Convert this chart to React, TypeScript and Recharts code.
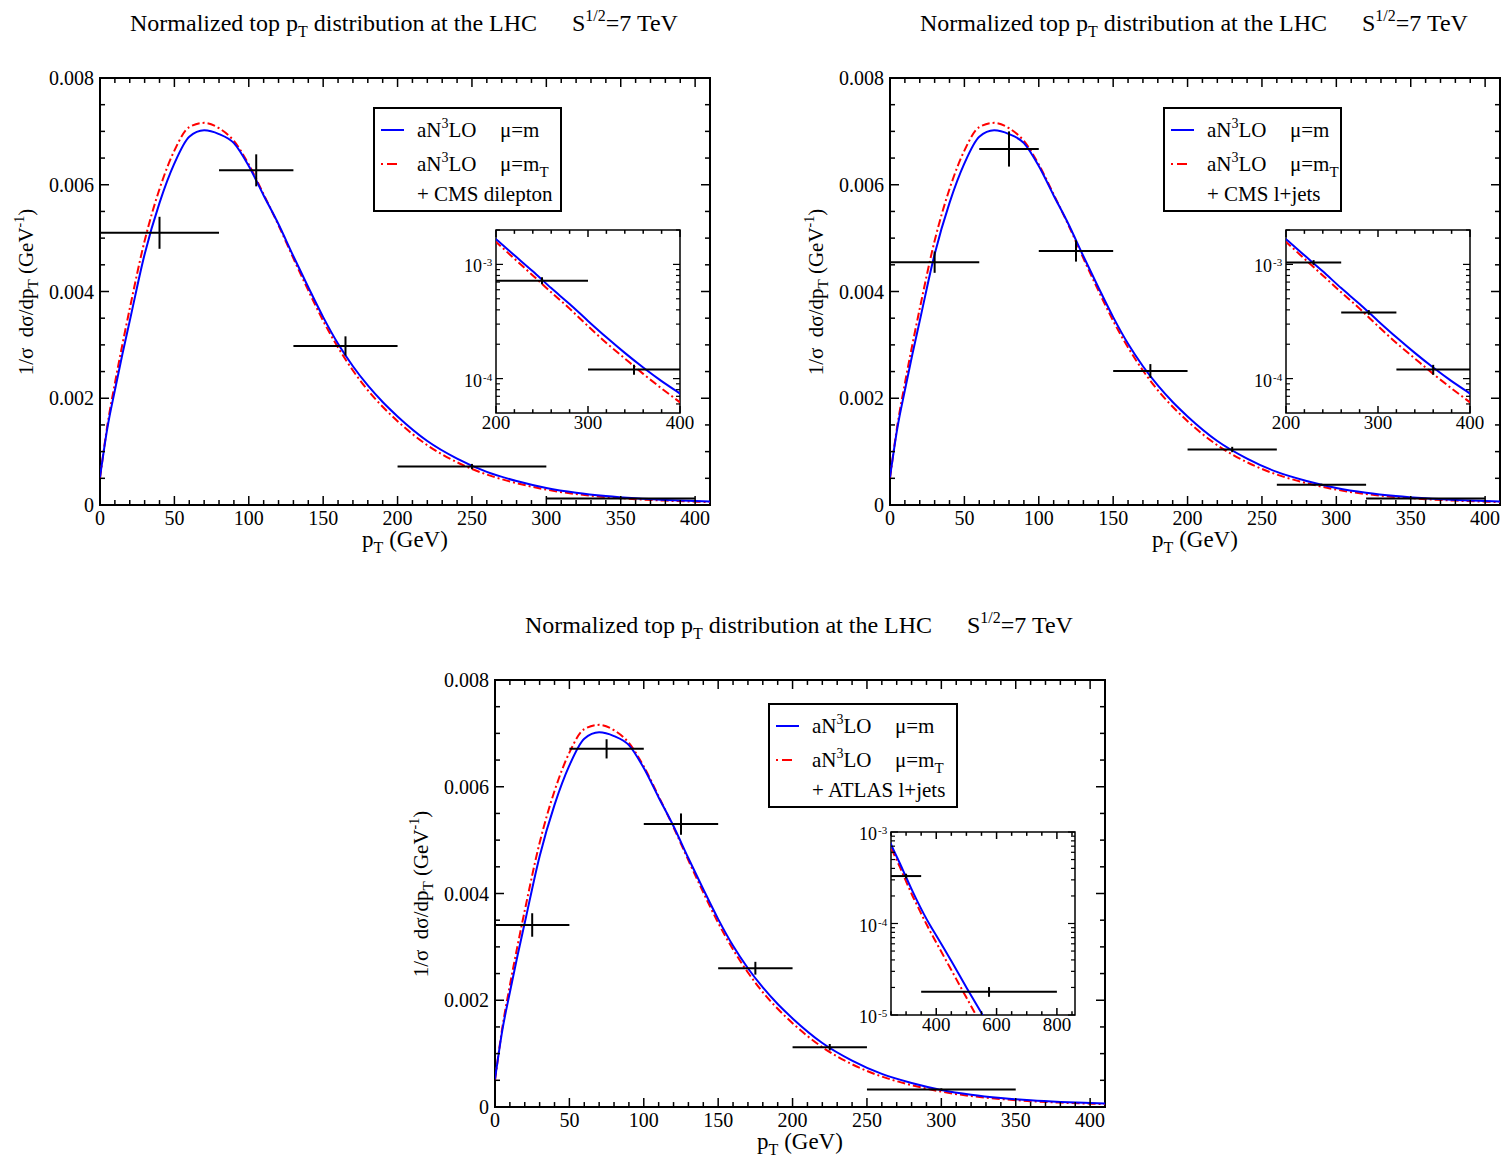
import React from "react";
import { ComposedChart, Line, Scatter, ErrorBar, XAxis, YAxis, ReferenceArea } from "recharts";

// theory curves (same for all three panels)
const ptGrid = [0, 5, 10, 15, 20, 30, 40, 50, 60, 70, 80, 90, 100, 110, 120, 130, 140, 150, 160, 170, 180, 190, 200, 220, 240, 260, 280, 300, 320, 340, 360, 380, 400, 450, 500, 550, 600];
const aN3LOmuM = [0.00052, 0.00145, 0.00215, 0.00282, 0.00345, 0.0047, 0.00566, 0.0064, 0.0069, 0.00702, 0.00695, 0.00678, 0.00635, 0.0058, 0.00526, 0.00466, 0.00408, 0.00352, 0.00302, 0.0026, 0.00224, 0.00193, 0.00166, 0.0012, 0.00087, 0.00062, 0.00045, 0.00032, 0.00023, 0.000168, 0.000125, 0.000095, 0.000074, 0.000039, 0.00002, 0.0000105, 0.0000055];
const aN3LOmuMT = [0.0005, 0.0015, 0.00228, 0.003, 0.00368, 0.00495, 0.00592, 0.00664, 0.00708, 0.00716, 0.00706, 0.00682, 0.00638, 0.00582, 0.00524, 0.00462, 0.00402, 0.00345, 0.00295, 0.00252, 0.00215, 0.00184, 0.00157, 0.00112, 0.0008, 0.00057, 0.00041, 0.000288, 0.000205, 0.00015, 0.00011, 0.000082, 0.000062, 0.000031, 0.0000155, 0.0000078, 0.0000039];

// CMS dilepton
const dilepX = [40, 105, 165, 250, 350];
const dilepY = [0.0051, 0.00627, 0.00298, 0.00072, 0.00012];
const dilepErr = [0.0003, 0.0003, 0.00018, 0.00005, 0.000012];
const dilepLo = [0, 80, 130, 200, 300];
const dilepHi = [80, 130, 200, 300, 400];

// CMS l+jets
const ljetsX = [30, 80, 125, 175, 230, 290, 360];
const ljetsY = [0.00455, 0.00667, 0.00476, 0.00251, 0.00104, 0.00038, 0.00012];
const ljetsErr = [0.0002, 0.00033, 0.0002, 0.00013, 0.00005, 0.000018, 0.000012];
const ljetsLo = [0, 60, 100, 150, 200, 260, 320];
const ljetsHi = [60, 100, 150, 200, 260, 320, 400];

// ATLAS l+jets
const atlasX = [25, 75, 125, 175, 225, 300, 575];
const atlasY = [0.00341, 0.00671, 0.0053, 0.0026, 0.00112, 0.00033, 0.000018];
const atlasErr = [0.00022, 0.00018, 0.0002, 0.00012, 0.00006, 0.00002, 0.0000022];
const atlasLo = [0, 50, 100, 150, 200, 250, 350];
const atlasHi = [50, 100, 150, 200, 250, 350, 800];

// axis ticks
const mainXTicks = [0, 10, 20, 30, 40, 50, 60, 70, 80, 90, 100, 110, 120, 130, 140, 150, 160, 170, 180, 190, 200, 210, 220, 230, 240, 250, 260, 270, 280, 290, 300, 310, 320, 330, 340, 350, 360, 370, 380, 390, 400];
const mainYTicks = [0, 0.0005, 0.001, 0.0015, 0.002, 0.0025, 0.003, 0.0035, 0.004, 0.0045, 0.005, 0.0055, 0.006, 0.0065, 0.007, 0.0075, 0.008];
const insetXTicksA = [200, 220, 240, 260, 280, 300, 320, 340, 360, 380, 400];
const insetXTicksB = [250, 300, 350, 400, 450, 500, 550, 600, 650, 700, 750, 800, 850];
const insetYTicksA = [6e-5, 7e-5, 8e-5, 9e-5, 1e-4, 2e-4, 3e-4, 4e-4, 5e-4, 6e-4, 7e-4, 8e-4, 9e-4, 1e-3, 2e-3];
const insetYTicksB = [1e-5, 2e-5, 3e-5, 4e-5, 5e-5, 6e-5, 7e-5, 8e-5, 9e-5, 1e-4, 2e-4, 3e-4, 4e-4, 5e-4, 6e-4, 7e-4, 8e-4, 9e-4, 1e-3];

const FONT = '"Liberation Serif", "DejaVu Serif", serif';
const PLOT_W = 610;
const PLOT_H = 427;
const INSET_W = 184;
const INSET_H = 183;

const blueData = ptGrid.map((x, i) => ({ x, y: aN3LOmuM[i] }));
const redData = ptGrid.map((x, i) => ({ x, y: aN3LOmuMT[i] }));

type Pt = { x: number; y: number; ey: number; ex: number[] };

function makePoints(xs: number[], ys: number[], errs: number[], lo: number[], hi: number[]): Pt[] {
  return xs.map((x, i) => ({ x, y: ys[i], ey: errs[i], ex: [x - lo[i], hi[i] - x] }));
}

const isMajorLin = (v: number, step: number) => Math.abs(v / step - Math.round(v / step)) < 1e-6;
const isDecade = (v: number) => Math.abs(Math.log10(v) - Math.round(Math.log10(v))) < 1e-6;

function XTick(props: any) {
  const { x, y, payload, plotH, majorStep, len, fontSize, labelDy } = props;
  const major = isMajorLin(payload.value, majorStep);
  const l = major ? len : len * 0.55;
  return (
    <g>
      <line x1={x} y1={y} x2={x} y2={y - l} stroke="#000" strokeWidth={1.5} />
      <line x1={x} y1={y - plotH} x2={x} y2={y - plotH + l} stroke="#000" strokeWidth={1.5} />
      {major && (
        <text x={x} y={y + labelDy} textAnchor="middle" fontSize={fontSize} fontFamily={FONT} fill="#000">
          {payload.value}
        </text>
      )}
    </g>
  );
}

function YTickLin(props: any) {
  const { x, y, payload, plotW } = props;
  const major = isMajorLin(payload.value, 0.002);
  const l = major ? 9 : 5;
  return (
    <g>
      <line x1={x} y1={y} x2={x + l} y2={y} stroke="#000" strokeWidth={1.5} />
      <line x1={x + plotW} y1={y} x2={x + plotW - l} y2={y} stroke="#000" strokeWidth={1.5} />
      {major && (
        <text x={x - 6} y={y + 7} textAnchor="end" fontSize={20} fontFamily={FONT} fill="#000">
          {payload.value === 0 ? "0" : payload.value.toFixed(3)}
        </text>
      )}
    </g>
  );
}

function YTickLog(props: any) {
  const { x, y, payload, plotW } = props;
  const major = isDecade(payload.value);
  const l = major ? 7 : 4;
  const exp = Math.round(Math.log10(payload.value));
  return (
    <g>
      <line x1={x} y1={y} x2={x + l} y2={y} stroke="#000" strokeWidth={1.2} />
      <line x1={x + plotW} y1={y} x2={x + plotW - l} y2={y} stroke="#000" strokeWidth={1.2} />
      {major && (
        <text x={x - 14} y={y + 8} textAnchor="end" fontSize={18} fontFamily={FONT} fill="#000">
          10
        </text>
      )}
      {major && (
        <text x={x - 13} y={y + 2} textAnchor="start" fontSize={11} fontFamily={FONT} fill="#000">
          {exp}
        </text>
      )}
    </g>
  );
}

type InsetCfg = { xDomain: number[]; yDomain: number[]; xTicks: number[]; yTicks: number[]; majorStep: number };

function Inset({ left, top, points, cfg }: { left: number; top: number; points: Pt[]; cfg: InsetCfg }) {
  const pts = points.filter((p) => p.x >= cfg.xDomain[0] && p.x <= cfg.xDomain[1]);
  const W = 50 + INSET_W + 14;
  const H = 16 + INSET_H + 30;
  return (
    <div style={{ position: "absolute", left: left - 50, top: top - 16, width: W, height: H }}>
      <ComposedChart width={W} height={H} margin={{ top: 16, right: 14, bottom: 0, left: 0 }}>
        <XAxis
          dataKey="x"
          type="number"
          domain={cfg.xDomain}
          allowDataOverflow
          ticks={cfg.xTicks}
          interval={0}
          height={30}
          tickSize={0}
          tickMargin={0}
          axisLine={false}
          tickLine={false}
          tick={(p: any) => <XTick {...p} plotH={INSET_H} majorStep={cfg.majorStep} len={7} fontSize={19} labelDy={16} />}
        />
        <YAxis
          type="number"
          scale="log"
          domain={cfg.yDomain}
          allowDataOverflow
          ticks={cfg.yTicks}
          interval={0}
          width={50}
          tickSize={0}
          tickMargin={0}
          axisLine={false}
          tickLine={false}
          tick={(p: any) => <YTickLog {...p} plotW={INSET_W} />}
        />
        <ReferenceArea x1={cfg.xDomain[0]} x2={cfg.xDomain[1]} y1={cfg.yDomain[0]} y2={cfg.yDomain[1]} fill="none" stroke="#000" strokeWidth={1.5} strokeOpacity={1} />
        <Line data={redData} dataKey="y" type="monotone" stroke="#ff0000" strokeWidth={2} strokeDasharray="8 3 2 3" dot={false} isAnimationActive={false} />
        <Line data={blueData} dataKey="y" type="monotone" stroke="#0000ff" strokeWidth={2} dot={false} isAnimationActive={false} />
        <Scatter data={pts} dataKey="y" shape={() => <g />} isAnimationActive={false}>
          <ErrorBar dataKey="ex" direction="x" width={0} stroke="#000" strokeWidth={2} />
          <ErrorBar dataKey="ey" direction="y" width={0} stroke="#000" strokeWidth={2} />
        </Scatter>
      </ComposedChart>
    </div>
  );
}

function Panel({ left, top, dataset, points, legendW, legendTop, inset }: {
  left: number; top: number; dataset: string; points: Pt[]; legendW: number; legendTop: number; inset: InsetCfg;
}) {
  const pts = points.filter((p) => p.x <= 410);
  const W = 90 + PLOT_W + 20;
  const H = 10 + PLOT_H + 40;
  const lgX = left + 274;
  const lgY = top + legendTop;
  return (
    <>
      <div style={{ position: "absolute", left: left - 90, top: top - 10, width: W, height: H }}>
        <ComposedChart width={W} height={H} margin={{ top: 10, right: 20, bottom: 0, left: 0 }}>
          <XAxis
            dataKey="x"
            type="number"
            domain={[0, 410]}
            allowDataOverflow
            ticks={mainXTicks}
            interval={0}
            height={40}
            tickSize={0}
            tickMargin={0}
            axisLine={false}
            tickLine={false}
            tick={(p: any) => <XTick {...p} plotH={PLOT_H} majorStep={50} len={9} fontSize={20} labelDy={20} />}
          />
          <YAxis
            type="number"
            domain={[0, 0.008]}
            allowDataOverflow
            ticks={mainYTicks}
            interval={0}
            width={90}
            tickSize={0}
            tickMargin={0}
            axisLine={false}
            tickLine={false}
            tick={(p: any) => <YTickLin {...p} plotW={PLOT_W} />}
          />
          <ReferenceArea x1={0} x2={410} y1={0} y2={0.008} fill="none" stroke="#000" strokeWidth={2} strokeOpacity={1} />
          <Line data={redData} dataKey="y" type="monotone" stroke="#ff0000" strokeWidth={2} strokeDasharray="8 3 2 3" dot={false} isAnimationActive={false} />
          <Line data={blueData} dataKey="y" type="monotone" stroke="#0000ff" strokeWidth={2} dot={false} isAnimationActive={false} />
          <Scatter data={pts} dataKey="y" shape={() => <g />} isAnimationActive={false}>
            <ErrorBar dataKey="ex" direction="x" width={0} stroke="#000" strokeWidth={2} />
            <ErrorBar dataKey="ey" direction="y" width={0} stroke="#000" strokeWidth={2} />
          </Scatter>
        </ComposedChart>
      </div>
      <Inset left={left + 396} top={top + 152} points={points} cfg={inset} />
      <svg style={{ position: "absolute", left: 0, top: 0, pointerEvents: "none" }} width={1506} height={1162}>
        <g fontFamily={FONT} fill="#000">
          <text x={left + 30} y={top - 47} fontSize={24}>
            Normalized top p<tspan dy={6} fontSize={16}>T</tspan>
            <tspan dy={-6}> distribution at the LHC</tspan>
          </text>
          <text x={left + 472} y={top - 47} fontSize={24}>
            S<tspan dy={-10} fontSize={16}>1/2</tspan>
            <tspan dy={10}>=7 TeV</tspan>
          </text>
          <text x={left + 305} y={top + PLOT_H + 42} fontSize={23} textAnchor="middle">
            p<tspan dy={6} fontSize={16}>T</tspan>
            <tspan dy={-6}> (GeV)</tspan>
          </text>
          <text transform={`translate(${left - 67},${top + 214}) rotate(-90)`} fontSize={21} textAnchor="middle" style={{ whiteSpace: "pre" }}>
            {"1/σ  dσ/dp"}
            <tspan dy={5} fontSize={15}>T</tspan>
            <tspan dy={-5}> (GeV</tspan>
            <tspan dy={-9} fontSize={14}>-1</tspan>
            <tspan dy={9}>)</tspan>
          </text>
          <rect x={lgX} y={lgY} width={legendW} height={103} fill="#fff" stroke="#000" strokeWidth={2} />
          <line x1={lgX + 7} y1={lgY + 22} x2={lgX + 30} y2={lgY + 22} stroke="#0000ff" strokeWidth={2} />
          <line x1={lgX + 7} y1={lgY + 56} x2={lgX + 30} y2={lgY + 56} stroke="#ff0000" strokeWidth={2} strokeDasharray="2 4 10 30" />
          <text x={lgX + 43} y={lgY + 29} fontSize={21}>
            aN<tspan dy={-9} fontSize={14}>3</tspan>
            <tspan dy={9}>LO</tspan>
          </text>
          <text x={lgX + 126} y={lgY + 29} fontSize={21}>μ=m</text>
          <text x={lgX + 43} y={lgY + 63} fontSize={21}>
            aN<tspan dy={-9} fontSize={14}>3</tspan>
            <tspan dy={9}>LO</tspan>
          </text>
          <text x={lgX + 126} y={lgY + 63} fontSize={21}>
            μ=m<tspan dy={6} fontSize={15}>T</tspan>
          </text>
          <text x={lgX + 43} y={lgY + 93} fontSize={21}>{dataset}</text>
        </g>
      </svg>
    </>
  );
}

const insetLow: InsetCfg = { xDomain: [200, 400], yDomain: [5e-5, 2e-3], xTicks: insetXTicksA, yTicks: insetYTicksA, majorStep: 100 };
const insetWide: InsetCfg = { xDomain: [250, 860], yDomain: [1e-5, 1e-3], xTicks: insetXTicksB, yTicks: insetYTicksB, majorStep: 200 };

export default function App() {
  return (
    <div style={{ position: "absolute", left: 0, top: 0, width: 1506, height: 1162, background: "#fff" }}>
      <Panel left={100} top={78} dataset="+ CMS dilepton" legendW={187} legendTop={30}
        points={makePoints(dilepX, dilepY, dilepErr, dilepLo, dilepHi)} inset={insetLow} />
      <Panel left={890} top={78} dataset="+ CMS l+jets" legendW={177} legendTop={30}
        points={makePoints(ljetsX, ljetsY, ljetsErr, ljetsLo, ljetsHi)} inset={insetLow} />
      <Panel left={495} top={680} dataset="+ ATLAS l+jets" legendW={188} legendTop={24}
        points={makePoints(atlasX, atlasY, atlasErr, atlasLo, atlasHi)} inset={insetWide} />
    </div>
  );
}
